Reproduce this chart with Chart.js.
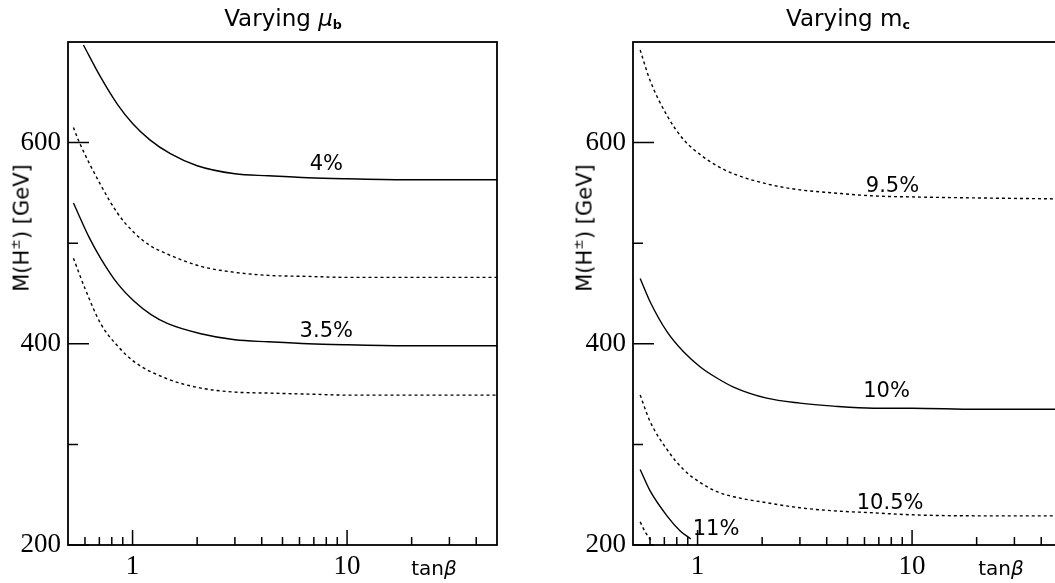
<!DOCTYPE html>
<html>
<head>
<meta charset="utf-8">
<script src="https://cdn.jsdelivr.net/npm/chart.js@4.4.1/dist/chart.umd.min.js"></script>
<style>
  html, body { margin: 0; padding: 0; background: #fff; overflow: hidden; }
  #wrap { position: relative; width: 1055px; height: 583px; overflow: hidden; }
  canvas { position: absolute; top: 0; }
  .txt { position: absolute; font-family: "DejaVu Sans", sans-serif; color: #000; white-space: nowrap; line-height: 1; }
  .title { font-size: 23px; transform: translate(-50%, -50%); }
  .ytitle { font-size: 21px; transform: translate(-50%, -50%) rotate(-90deg); }
  .xtitle { font-size: 20px; transform: translate(-50%, -50%); }
  sub { font-size: 55%; vertical-align: -0.25em; font-weight: bold; }
  sup { font-size: 60%; vertical-align: 0.7em; }
</style>
</head>
<body>
<div id="wrap">
  <canvas id="leftChart" width="540" height="583" style="left:0"></canvas>
  <canvas id="rightChart" width="540" height="583" style="left:540px"></canvas>
  <div class="txt title" style="left:283px; top:19px">Varying <i>μ</i><sub>b</sub></div>
  <div class="txt title" style="left:848px; top:19px">Varying m<sub>c</sub></div>
  <div class="txt ytitle" style="left:21px; top:228px">M(H<sup>±</sup>) [GeV]</div>
  <div class="txt ytitle" style="left:584px; top:228px">M(H<sup>±</sup>) [GeV]</div>
  <div class="txt xtitle" style="left:434px; top:568px">tan<i>β</i></div>
  <div class="txt xtitle" style="left:1001px; top:568px">tan<i>β</i></div>
</div>
<script>
// --- curves: tan(beta) and M(H+-) in GeV ---

// left panel, varying mu_b
const mu4X  = [0.59, 0.71, 0.85, 1.0, 1.2, 1.5, 2, 3, 4.3, 6.6, 10, 20, 50];
const mu4Y  = [697, 665, 638, 619, 603, 589, 577, 569, 567, 565, 564, 563, 563];
const muUpX = [0.53, 0.56, 0.71, 0.85, 1.0, 1.2, 1.46, 2.08, 3, 4.3, 6.6, 10, 20, 50];
const muUpY = [615, 602, 558, 530, 512, 498, 489, 477, 471, 468, 467, 466, 466, 466];
const mu35X = [0.53, 0.63, 0.71, 0.85, 1.02, 1.22, 1.46, 2.08, 3, 4.3, 6.6, 10, 20, 50];
const mu35Y = [540, 505, 485, 460, 442, 429, 420, 410, 404, 402, 400, 399, 398, 398];
const muLoX = [0.53, 0.6, 0.71, 0.85, 1.02, 1.46, 2.08, 3, 4.3, 6.6, 10, 20, 50];
const muLoY = [485, 455, 420, 398, 382, 365, 356, 352, 351, 350, 349, 349, 349];

// right panel, varying m_c
const mcX    = [0.54, 0.6, 0.72, 0.86, 1.03, 1.23, 1.47, 2.1, 3, 4.3, 6.6, 10, 20, 50];
const mc95Y  = [692, 662, 627, 603, 588, 577, 569, 559, 553, 550, 547, 546, 545, 544];
const mc10Y  = [465, 442, 412, 392, 377, 366, 357, 346, 341, 338, 336, 336, 335, 335];
const mc105Y = [349, 323, 295, 275, 262, 253, 248, 242, 237, 234, 232, 230, 229, 229];
const mc11X  = [0.54, 0.6, 0.72, 0.83, 0.93];
const mc11Y  = [275, 254, 229, 214, 206];
const mcLoX  = [0.54, 0.57, 0.605];
const mcLoY  = [223, 213, 205];

// curve labels: text and where it sits (tan beta, GeV)
const muNotes = [["4%", 8.0, 578], ["3.5%", 8.0, 412]];
const mcNotes = [["9.5%", 8.1, 556], ["10%", 7.6, 353], ["10.5%", 7.9, 241], ["11%", 1.22, 215]];

// axes
const xRange = [0.5, 50];
const yRange = [200, 700];
const xLabelTicks = [1, 10];
const xMajorTicks = [1, 10];
const xMinorTicks = [0.6, 0.7, 0.8, 0.9, 2, 3, 4, 5, 6, 7, 8, 9, 20, 30, 40];
const yLabelTicks = [200, 400, 600];
const yMajorTicks = [200, 400, 600];
const yMinorTicks = [300, 500];

function curve(xs, ys, dashed) {
  return {
    data: xs.map((x, i) => ({ x: x, y: ys[i] })),
    borderColor: "#000",
    borderWidth: 1.4,
    borderDash: dashed ? [3, 3] : [],
    pointRadius: 0,
    cubicInterpolationMode: "monotone",
    fill: false
  };
}

// inward ticks, frame and the % labels
const framePlugin = {
  id: "frame",
  afterDraw(chart) {
    const ctx = chart.ctx, a = chart.chartArea;
    const xs = chart.scales.x, ys = chart.scales.y;
    ctx.save();
    ctx.strokeStyle = "#000";
    ctx.lineWidth = 1.5;
    ctx.beginPath();
    xMajorTicks.forEach(v => { const p = xs.getPixelForValue(v); ctx.moveTo(p, a.bottom); ctx.lineTo(p, a.bottom - 15); });
    xMinorTicks.forEach(v => { const p = xs.getPixelForValue(v); ctx.moveTo(p, a.bottom); ctx.lineTo(p, a.bottom - 8); });
    yMajorTicks.forEach(v => { const p = ys.getPixelForValue(v); ctx.moveTo(a.left, p); ctx.lineTo(a.left + 21, p); });
    yMinorTicks.forEach(v => { const p = ys.getPixelForValue(v); ctx.moveTo(a.left, p); ctx.lineTo(a.left + 10, p); });
    ctx.stroke();
    ctx.lineWidth = 1.8;
    ctx.strokeRect(a.left, a.top, a.right - a.left, a.bottom - a.top);

    ctx.fillStyle = "#000";
    ctx.font = "21px 'DejaVu Sans'";
    ctx.textAlign = "center";
    ctx.textBaseline = "middle";
    chart.options.plugins.frame.notes.forEach(n => {
      ctx.fillText(n[0], xs.getPixelForValue(n[1]), ys.getPixelForValue(n[2]));
    });
    ctx.restore();
  }
};

function makeChart(id, datasets, notes, yWidth, padRight) {
  return new Chart(document.getElementById(id), {
    type: "line",
    data: { datasets: datasets },
    options: {
      responsive: false,
      animation: false,
      devicePixelRatio: 1,
      layout: { padding: { top: 42, right: padRight, left: 0, bottom: 0 } },
      plugins: { legend: { display: false }, tooltip: { enabled: false }, frame: { notes: notes } },
      scales: {
        x: {
          type: "logarithmic",
          min: xRange[0], max: xRange[1],
          grid: { display: false },
          border: { display: false },
          afterBuildTicks: s => { s.ticks = xLabelTicks.map(v => ({ value: v })); },
          afterFit: s => { s.height = 38; },
          ticks: {
            autoSkip: false, maxRotation: 0, padding: 0,
            color: "#000",
            font: { family: "'Liberation Serif'", size: 27, lineHeight: 1 },
            callback: v => String(v)
          }
        },
        y: {
          min: yRange[0], max: yRange[1],
          grid: { display: false },
          border: { display: false },
          afterBuildTicks: s => { s.ticks = yLabelTicks.map(v => ({ value: v })); },
          afterFit: s => { s.width = yWidth; },
          ticks: {
            autoSkip: false, padding: -1,
            color: "#000",
            font: { family: "'Liberation Serif'", size: 27 },
            callback: v => String(v)
          }
        }
      }
    },
    plugins: [framePlugin]
  });
}

makeChart("leftChart", [
  curve(mu4X, mu4Y, false),
  curve(muUpX, muUpY, true),
  curve(mu35X, mu35Y, false),
  curve(muLoX, muLoY, true)
], muNotes, 68, 43);

makeChart("rightChart", [
  curve(mcX, mc95Y, true),
  curve(mcX, mc10Y, false),
  curve(mcX, mc105Y, true),
  curve(mc11X, mc11Y, false),
  curve(mcLoX, mcLoY, true)
], mcNotes, 93, 18);
</script>
</body>
</html>
